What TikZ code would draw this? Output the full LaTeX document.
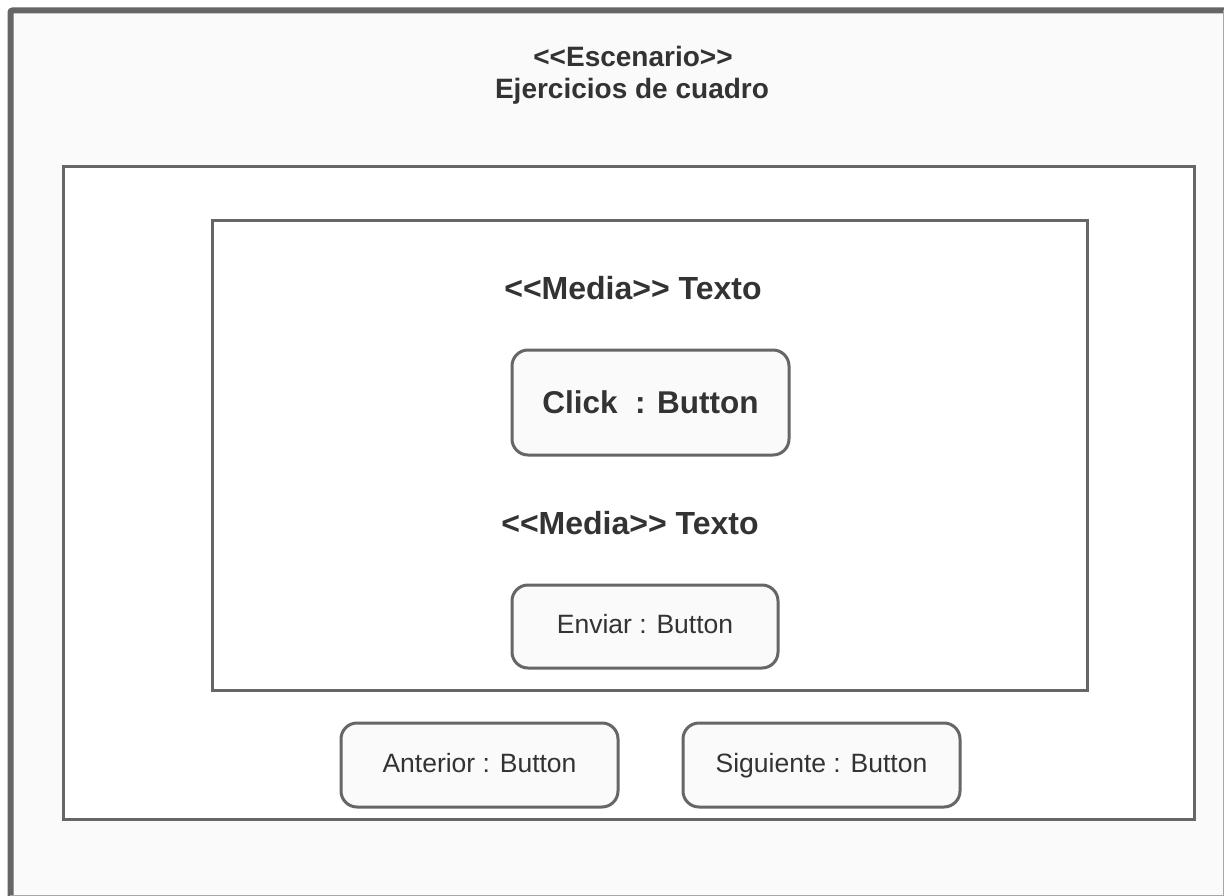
\documentclass[tikz,border=0pt]{standalone}
\usepackage{fontspec}
\setmainfont{Liberation Sans}
\definecolor{linegray}{HTML}{666666}
\definecolor{paper}{HTML}{FAFAFA}
\definecolor{inkgray}{HTML}{333333}
\newcommand{\stereo}[1]{<\kern0pt<#1>\kern0pt>}

\begin{document}
\begin{tikzpicture}[x=1pt,y=-1pt,
    frame/.style={draw=linegray, line width=3, fill=white},
    button/.style={draw=linegray, line width=3, fill=paper, rounded corners=16,
      inner sep=0pt, text=inkgray, text height=14.5pt, text depth=0pt,
      font=\fontsize{26.5}{30}\selectfont},
    bigbutton/.style={button, text height=21pt, font=\bfseries\fontsize{31.5}{36}\selectfont},
    caption/.style={anchor=base, inner sep=0pt, text=inkgray}
  ]
  \useasboundingbox (0,0) rectangle (1224,896);

  \pgfmathsetmacro{\midx}{633};

  % escenario
  \fill[white] (0,0) rectangle (1224,896);
  \fill[paper] (10,10) rectangle (1224,896);
  \draw[linegray, line width=6, rounded corners=2] (10.5,900) -- (10.5,10.5) -- (1230,10.5);
  \draw[gray!70, line width=1] (1223.5,10) -- (1223.5,895.5) -- (10,895.5);

  \node[caption, font=\bfseries\fontsize{28}{32}\selectfont] (title) at (\midx,67) {\stereo{Escenario}};
  \node[caption, font=\bfseries\fontsize{28}{32}\selectfont] (titlename) at (632,98.5) {Ejercicios de cuadro};

  \draw[frame] (63,167) rectangle (1194,819);
  \draw[frame] (212.5,221) rectangle (1087,690);

  \node[caption, font=\bfseries\fontsize{32}{36}\selectfont] (media1) at (633,299) {\stereo{Media} Texto};
  \node[bigbutton, minimum width=277, minimum height=105] (click) at (650.5,402.5) {Click\ \ : Button};

  \node[caption, font=\bfseries\fontsize{32}{36}\selectfont] (media2) at (630,534.5) {\stereo{Media} Texto};
  \node[button, minimum width=266, minimum height=83] (enviar) at (645,626.5) {Enviar : Button};

  \node[button, minimum width=277, minimum height=84] (anterior) at (479.5,765) {Anterior : Button};
  \node[button, minimum width=277, minimum height=84] (siguiente) at (821.5,765) {Siguiente : Button};
\end{tikzpicture}
\end{document}
